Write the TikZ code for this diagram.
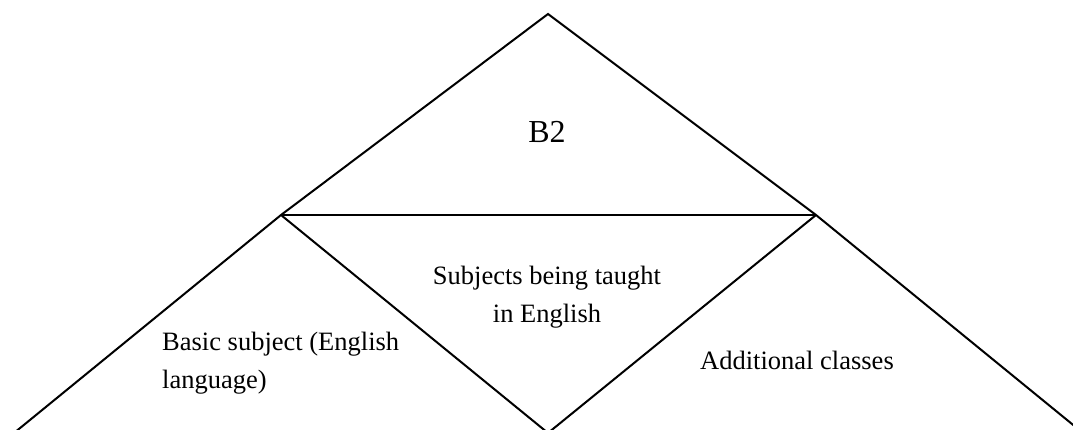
\documentclass[tikz,border=0pt]{standalone}
\usepackage{fontspec}
\setmainfont{Liberation Serif}
\usetikzlibrary{positioning}

\begin{document}
\begin{tikzpicture}[
    x=1pt, y=-1pt,
    edge/.style={draw=black, line width=2pt},
    label/.style={inner sep=0pt, font=\fontsize{26.5}{38}\selectfont},
    biglabel/.style={inner sep=0pt, font=\fontsize{32}{38}\selectfont}
]
    \useasboundingbox (0,0) rectangle (1073,430);
    \clip (0,0) rectangle (1073,430);

    % Corners
    \coordinate (apex) at (548,14);
    \coordinate (midL) at (281,215);
    \coordinate (midR) at (816,215);
    \coordinate (botL) at (14,433);
    \coordinate (botC) at (548,433);
    \coordinate (botR) at (1083,433);

    % Outline
    \draw [edge] (botL) -- (midL) -- (apex) -- (midR) -- (botR);
    \draw [edge] (midL) -- (midR);
    \draw [edge] (midL) -- (botC) -- (midR);

    % Labels (base = last line)
    \node[biglabel, anchor=base] (level) at (547,143) {B2};
    \node[label, align=center, anchor=base] (taught) at (547,322) {Subjects being taught\\in English};
    \node[label, align=left, anchor=base west] (basic) at (162,388) {Basic subject (English\\language)};
    \node[label, anchor=base] (extra) at (797,369) {Additional classes};
\end{tikzpicture}
\end{document}
